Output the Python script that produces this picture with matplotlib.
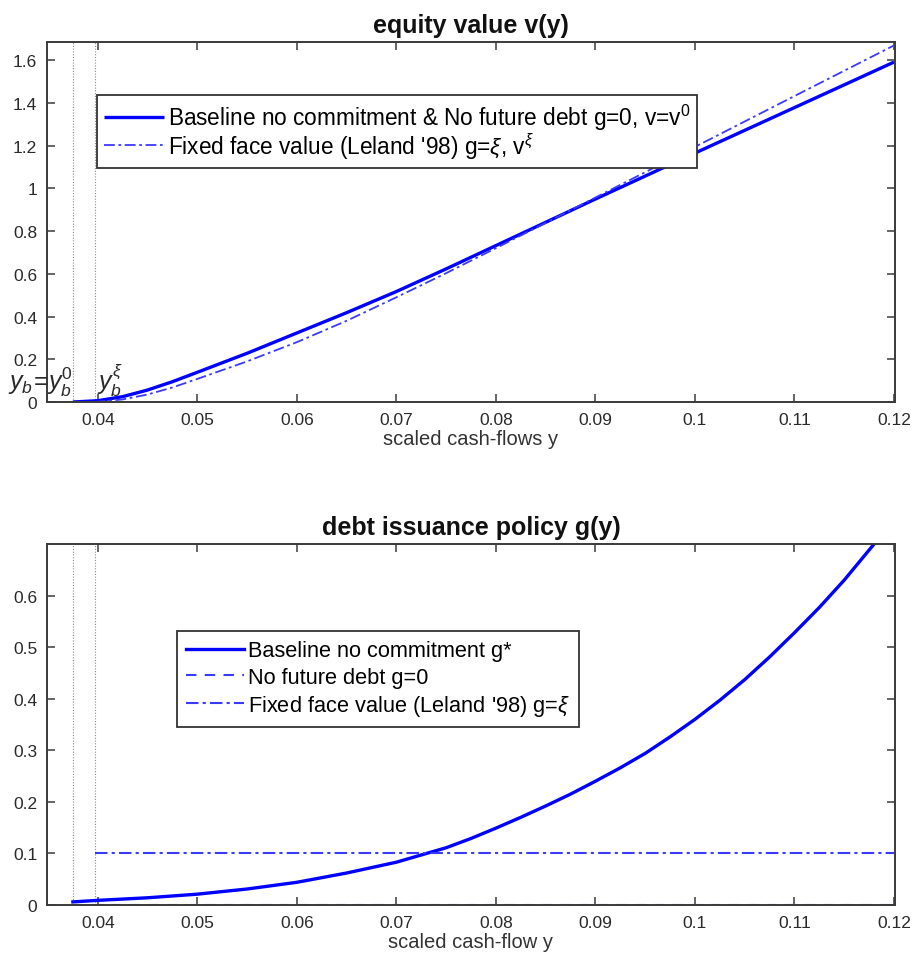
import matplotlib
matplotlib.use("Agg")
import matplotlib.pyplot as plt

plt.rcParams['font.family'] = ['Liberation Sans', 'DejaVu Sans']
plt.rcParams['mathtext.fontset'] = 'custom'
plt.rcParams['mathtext.rm'] = 'Liberation Sans'
plt.rcParams['mathtext.it'] = 'Liberation Sans:italic'
plt.rcParams['mathtext.bf'] = 'Liberation Sans:bold'

# ---------------- data ----------------
yb0 = 0.0375     # default boundary, no commitment / no future debt
ybxi = 0.0397    # default boundary, fixed face value
xi_level = 0.1

# equity value
y_v0 = [0.0375, 0.040, 0.0425, 0.045, 0.0475, 0.050, 0.055, 0.060, 0.065, 0.070, 0.075, 0.080,
        0.090, 0.100, 0.110, 0.120]
v0 = [0.000, 0.006, 0.025, 0.056, 0.095, 0.139, 0.228, 0.323, 0.418, 0.517, 0.623, 0.732,
      0.950, 1.165, 1.378, 1.591]

y_vxi = [0.0397, 0.0425, 0.045, 0.0475, 0.050, 0.055, 0.060, 0.065, 0.070, 0.075, 0.080,
         0.090, 0.100, 0.110, 0.120]
vxi = [0.000, 0.012, 0.035, 0.068, 0.108, 0.190, 0.280, 0.380, 0.490, 0.603, 0.720,
       0.957, 1.194, 1.432, 1.669]

# debt issuance policy
y_g = [0.0375, 0.040, 0.045, 0.050, 0.055, 0.060, 0.065, 0.070, 0.075, 0.0775, 0.080, 0.0825,
       0.085, 0.0875, 0.090, 0.0925, 0.095, 0.0975, 0.100, 0.1025, 0.105, 0.1075, 0.110,
       0.1125, 0.115, 0.118]
g_star = [0.006, 0.009, 0.014, 0.021, 0.031, 0.044, 0.062, 0.083, 0.111, 0.129, 0.149, 0.170,
          0.192, 0.215, 0.240, 0.266, 0.294, 0.326, 0.360, 0.397, 0.437, 0.481, 0.528,
          0.577, 0.630, 0.700]
y_g0 = [0.0375, 0.120]
g_zero = [0.0, 0.0]
y_gxi = [0.0397, 0.120]
g_xi = [xi_level, xi_level]

xticks = [0.04, 0.05, 0.06, 0.07, 0.08, 0.09, 0.1, 0.11, 0.12]
xticklabels = ['0.04', '0.05', '0.06', '0.07', '0.08', '0.09', '0.1', '0.11', '0.12']
yticks_top = [0, 0.2, 0.4, 0.6, 0.8, 1.0, 1.2, 1.4, 1.6]
yticklabels_top = ['0', '0.2', '0.4', '0.6', '0.8', '1', '1.2', '1.4', '1.6']
yticks_bot = [0, 0.1, 0.2, 0.3, 0.4, 0.5, 0.6]
yticklabels_bot = ['0', '0.1', '0.2', '0.3', '0.4', '0.5', '0.6']

# ---------------- figure ----------------
fig = plt.figure(figsize=(9.19, 9.62), dpi=100)
W, H = 919, 962
def axrect(x0, y0, x1, y1):
    return [x0 / W, 1 - y1 / H, (x1 - x0) / W, (y1 - y0) / H]

ax1 = fig.add_axes(axrect(47, 43, 895, 403))
ax2 = fig.add_axes(axrect(47, 545, 895, 906))

spine_c = '#3a3a3a'
blue = '#0000ff'
dash_blue = '#3a3aff'
txt_c = '#2a2a2a'

def style(ax):
    for s in ax.spines.values():
        s.set_color(spine_c)
        s.set_linewidth(1.4)
    ax.tick_params(direction='in', top=True, right=True, length=6, width=1.1,
                   color=spine_c, labelsize=12.5, labelcolor=txt_c, pad=7)
    ax.set_xlim(0.0349, 0.1201)
    ax.set_xticks(xticks)
    ax.set_xticklabels(xticklabels)
    ax.axvline(yb0, color='#8a8a8a', linestyle=(0, (1, 1.5)), lw=0.8, zorder=1)
    ax.axvline(ybxi, color='#8a8a8a', linestyle=(0, (1, 1.5)), lw=0.8, zorder=1)

leg_common = dict(loc='upper left', frameon=True, fancybox=False, framealpha=1,
                  edgecolor='#333333', borderaxespad=0)

# ---- top panel ----
style(ax1)
ax1.plot(y_v0, v0, color=blue, lw=2.4, solid_capstyle='butt',
         label=r'Baseline no commitment & No future debt g=0, v=v$^0$')
ax1.plot(y_vxi, vxi, color=dash_blue, lw=1.3, linestyle=(0, (6, 2, 1.5, 2)),
         label=r"Fixed face value (Leland '98) g=$\xi$, v$^{\xi}$")
ax1.set_ylim(0, 1.685)
ax1.set_yticks(yticks_top)
ax1.set_yticklabels(yticklabels_top)
ax1.set_title('equity value v(y)', fontsize=18, fontweight='bold', pad=7, color='#111111')
ax1.set_xlabel('scaled cash-flows y', fontsize=14.5, color='#333333', labelpad=2)
leg1 = ax1.legend(bbox_to_anchor=(0.059, 0.853), fontsize=16.3, handlelength=2.65,
                  handletextpad=0.18, borderpad=0.3, labelspacing=-0.08, **leg_common)
leg1.get_frame().set_linewidth(1.3)
ax1.text(yb0, 0.02, r'$y_b\!=\!y^0_b$', ha='right', va='bottom', fontsize=18, color=txt_c)
ax1.text(ybxi + 0.0002, 0.02, r'$y^{\xi}_b$', ha='left', va='bottom', fontsize=18, color=txt_c)

# ---- bottom panel ----
style(ax2)
ax2.plot(y_g, g_star, color=blue, lw=2.4, label='Baseline no commitment g*')
ax2.plot(y_g0, g_zero, color=dash_blue, lw=1.5, linestyle=(0, (5, 4)), label='No future debt g=0')
ax2.plot(y_gxi, g_xi, color=dash_blue, lw=1.5, linestyle=(0, (6, 2, 1.5, 2)),
         label=r"Fixed face value (Leland '98) g=$\xi$")
ax2.set_ylim(0, 0.7)
ax2.set_yticks(yticks_bot)
ax2.set_yticklabels(yticklabels_bot)
ax2.set_title('debt issuance policy g(y)', fontsize=18, fontweight='bold', pad=7, color='#111111')
ax2.set_xlabel('scaled cash-flow y', fontsize=14.5, color='#333333', labelpad=2)
leg2 = ax2.legend(bbox_to_anchor=(0.153, 0.759), fontsize=15.7, handlelength=2.65,
                  handletextpad=0.18, borderpad=0.42, labelspacing=0.25, **leg_common)
leg2.get_frame().set_linewidth(1.3)

fig.savefig('out.png', dpi=100)
